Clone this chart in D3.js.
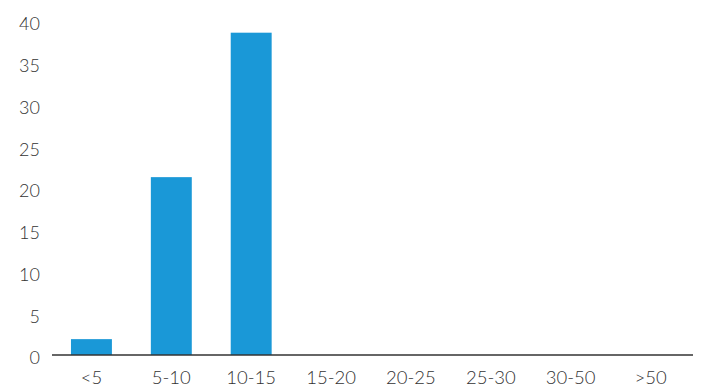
<!DOCTYPE html>
<html>
<head>
<meta charset="utf-8">
<script src="https://cdn.jsdelivr.net/npm/d3@7"></script>
<style>
  body { margin: 0; background: #fff; }
  svg text { font-family: Lato, "Open Sans", sans-serif; font-weight: 300; fill: #333; }
</style>
</head>
<body>
<svg width="701" height="389"></svg>
<script>
// categories and values
var categories = ['<5', '5-10', '10-15', '15-20', '20-25', '25-30', '30-50', '>50']
var values = [1.9, 21.3, 38.6, 0, 0, 0, 0, 0]
var yTicks = [0, 5, 10, 15, 20, 25, 30, 35, 40]

var svg = d3.select('svg')

var x = d3.scaleBand()
    .domain(categories)
    .range([51, 691])
    .paddingInner(0.4875)
    .paddingOuter(0.25)

var y = d3.scaleLinear()
    .domain([0, 40])
    .range([355, 21])

// y labels, no axis line
svg.append('g')
    .selectAll('text')
    .data(yTicks)
    .enter()
    .append('text')
    .attr('x', 40)
    .attr('y', function (d) { return y(d) + 3 })
    .attr('dy', '0.35em')
    .attr('text-anchor', 'end')
    .attr('font-size', 18)
    .text(function (d) { return d })

// bars
svg.append('g')
    .selectAll('rect')
    .data(values)
    .enter()
    .append('rect')
    .attr('x', function (d, i) { return x(categories[i]) })
    .attr('y', function (d) { return y(d) })
    .attr('width', x.bandwidth())
    .attr('height', function (d) { return y(0) - y(d) })
    .attr('fill', '#1a98d7')

// baseline
svg.append('line')
    .attr('x1', 52)
    .attr('x2', 693)
    .attr('y1', y(0))
    .attr('y2', y(0))
    .style('stroke', '#333')
    .style('stroke-width', 1.5)

// x labels
svg.append('g')
    .selectAll('text')
    .data(categories)
    .enter()
    .append('text')
    .attr('x', function (d) { return x(d) + x.bandwidth() / 2 })
    .attr('y', 384)
    .attr('text-anchor', 'middle')
    .attr('font-size', 18.5)
    .text(function (d) { return d })
</script>
</body>
</html>
